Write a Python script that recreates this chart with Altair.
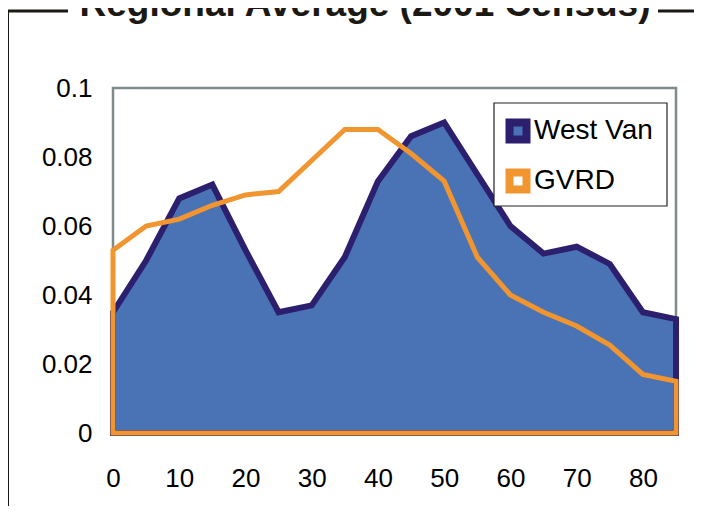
import altair as alt
import pandas as pd

# ---- data ----
ages = [0, 5, 10, 15, 20, 25, 30, 35, 40, 45, 50, 55, 60, 65, 70, 75, 80, 85]
west_van = [0.035, 0.050, 0.068, 0.072, 0.053, 0.035, 0.037, 0.051, 0.073,
            0.086, 0.090, 0.075, 0.060, 0.052, 0.054, 0.049, 0.035, 0.033]
gvrd = [0.053, 0.060, 0.062, 0.066, 0.069, 0.070, 0.079, 0.088, 0.088,
        0.081, 0.073, 0.051, 0.040, 0.035, 0.031, 0.0255, 0.017, 0.015]
series_names = ["West Van", "GVRD"]
x_ticks = [0, 10, 20, 30, 40, 50, 60, 70, 80]
y_ticks = [0, 0.02, 0.04, 0.06, 0.08, 0.1]
title_text = ["Regional Average (2001 Census)"]

# ---- styles ----
FONT = "Liberation Sans"
BLUE_FILL = "#4a73b5"
NAVY = "#2b1f6e"
ORANGE = "#f0952f"
FRAME = "#1c1915"

wv_df = pd.DataFrame({"age": ages, "value": west_van, "series": series_names[0]})
gv_df = pd.DataFrame({"age": ages, "value": gvrd, "series": series_names[1]})
one = pd.DataFrame({"t": title_text})

x_enc = alt.X("age:Q", scale=alt.Scale(domain=[0, 85], nice=False),
              axis=alt.Axis(values=x_ticks, format="d", title=None,
                            labelPadding=32, tickSize=0, labelFlush=False))
y_enc = alt.Y("value:Q", scale=alt.Scale(domain=[0, 0.1], nice=False),
              stack=None,
              axis=alt.Axis(values=y_ticks, format=".2~f", title=None,
                            labelPadding=21, tickSize=0))
fill_enc = alt.Fill("series:N",
                    scale=alt.Scale(domain=series_names, range=[BLUE_FILL, "transparent"]),
                    legend=alt.Legend(title=None))
stroke_enc = alt.Stroke("series:N",
                        scale=alt.Scale(domain=series_names, range=[NAVY, ORANGE]),
                        legend=alt.Legend(title=None))

wv_area = alt.Chart(wv_df).mark_area(strokeWidth=6, fillOpacity=1).encode(
    x=x_enc, y=y_enc, fill=fill_enc, stroke=stroke_enc)
gv_area = alt.Chart(gv_df).mark_area(strokeWidth=5, fillOpacity=1).encode(
    x=x_enc, y=y_enc, fill=fill_enc, stroke=stroke_enc)

# legend box (drawn under the legend entries)
legend_box = alt.Chart(one).mark_rect(fill="white", stroke="#222222", strokeWidth=1.2).encode(
    x=alt.value(381), x2=alt.value(554), y=alt.value(15), y2=alt.value(118))

# decorative frame and clipped title (pixel offsets from plot origin)
frame_left = alt.Chart(one).mark_rule(color=FRAME, strokeWidth=4).encode(
    x=alt.value(-106), y=alt.value(-78), y2=alt.value(440))
frame_tl = alt.Chart(one).mark_rule(color=FRAME, strokeWidth=3).encode(
    x=alt.value(-108), x2=alt.value(-45), y=alt.value(-77))
frame_tr = alt.Chart(one).mark_rule(color=FRAME, strokeWidth=3).encode(
    x=alt.value(545), x2=alt.value(600), y=alt.value(-77))
title = alt.Chart(one).mark_text(
    font=FONT, fontSize=37, fontWeight="bold", color=FRAME,
    align="center", baseline="alphabetic").encode(
    text="t:N", x=alt.value(252), y=alt.value(-72))

chart = alt.layer(frame_left, frame_tl, frame_tr, title, wv_area, gv_area, legend_box).properties(
    width=563, height=345,
    autosize=alt.AutoSizeParams(type="none"),
    padding={"left": 105, "top": 80, "right": 18, "bottom": 73},
).configure_view(
    stroke="#7f8b8b", strokeWidth=2.5
).configure_axis(
    grid=False, domain=False, ticks=False,
    labelFont=FONT, labelFontSize=26, labelColor="black"
).configure_legend(
    orient="none", legendX=381, legendY=19, padding=10,
    labelFont=FONT, labelFontSize=28, labelColor="black", labelOffset=2,
    symbolType="square", symbolSize=289, symbolStrokeWidth=8,
    rowPadding=0
)

chart.save("out.html", embed_options={"renderer": "svg", "actions": False})
